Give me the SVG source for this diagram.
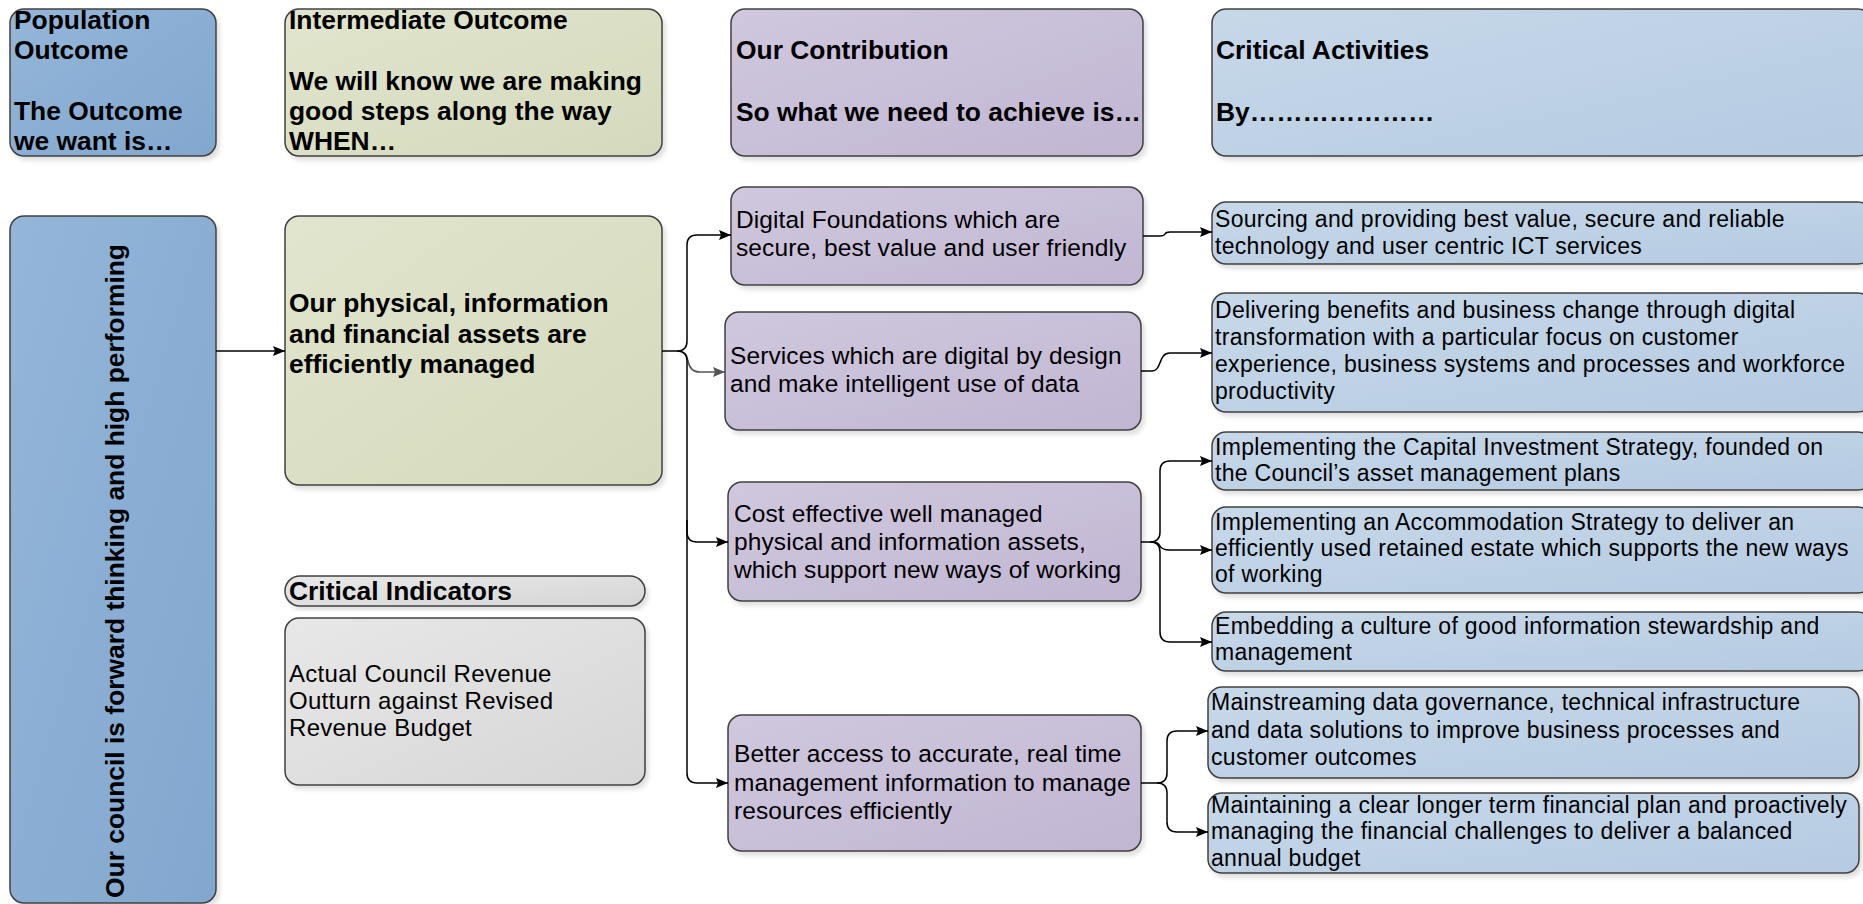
<svg xmlns="http://www.w3.org/2000/svg" width="1863" height="904" viewBox="0 0 1863 904">
<defs>
<linearGradient id="gBlue" x1="0" y1="0" x2="1" y2="1"><stop offset="0" stop-color="#93b6d9"/><stop offset="1" stop-color="#82a7ce"/></linearGradient>
<linearGradient id="gOlive" x1="0" y1="0" x2="1" y2="1"><stop offset="0" stop-color="#e1e5cd"/><stop offset="1" stop-color="#d5d9bc"/></linearGradient>
<linearGradient id="gPurple" x1="0" y1="0" x2="1" y2="1"><stop offset="0" stop-color="#d0c8de"/><stop offset="1" stop-color="#c1b6d3"/></linearGradient>
<linearGradient id="gLight" x1="0" y1="0" x2="1" y2="1"><stop offset="0" stop-color="#c7d8e9"/><stop offset="1" stop-color="#b5cbe2"/></linearGradient>
<linearGradient id="gGray" x1="0" y1="0" x2="1" y2="1"><stop offset="0" stop-color="#e8e8e8"/><stop offset="1" stop-color="#d6d6d6"/></linearGradient>
<filter id="sh" x="-5%" y="-5%" width="115%" height="120%"><feDropShadow dx="3" dy="4" stdDeviation="2" flood-color="#000" flood-opacity="0.12"/></filter>
<marker id="ar" markerUnits="userSpaceOnUse" markerWidth="13" markerHeight="10" refX="12" refY="5" orient="auto"><path d="M0,0 L12,5 L0,10 L2,5 z" fill="#000"/></marker>
<marker id="arg" markerUnits="userSpaceOnUse" markerWidth="13" markerHeight="10" refX="12" refY="5" orient="auto"><path d="M0,0 L12,5 L0,10 L2,5 z" fill="#555"/></marker>
</defs>
<style>
rect.n{stroke:#404040;stroke-width:1.5;filter:url(#sh)}
.blue{fill:url(#gBlue)}
.olive{fill:url(#gOlive)}
.purple{fill:url(#gPurple)}
.light{fill:url(#gLight)}
.gray{fill:url(#gGray)}
text{font-family:"Liberation Sans",Arial,sans-serif;fill:#000}
.b{font-weight:bold;font-size:26.4px}
.r{font-size:24.5px;letter-spacing:0.1px}
.ri{font-size:24px;letter-spacing:0.3px}
.rs{font-size:23px;letter-spacing:0.3px}
.c path{fill:none;stroke:#000;stroke-width:1.5;marker-end:url(#ar)}
.c path.g{stroke:#555;marker-end:url(#arg)}
</style>

<g id="hdr-population"><rect class="n blue" x="10" y="9" width="206" height="147" rx="14"/>
<text class="b"><tspan x="14" y="29">Population</tspan><tspan x="14" y="59">Outcome</tspan><tspan x="14" y="120">The Outcome</tspan><tspan x="14" y="150">we want is…</tspan></text></g>

<g id="hdr-intermediate"><rect class="n olive" x="285" y="9" width="377" height="147" rx="14"/>
<text class="b"><tspan x="289" y="29">Intermediate Outcome</tspan><tspan x="289" y="90">We will know we are making</tspan><tspan x="289" y="120">good steps along the way</tspan><tspan x="289" y="150">WHEN…</tspan></text></g>

<g id="hdr-contribution"><rect class="n purple" x="731" y="9" width="412" height="147" rx="14"/>
<text class="b"><tspan x="736" y="59">Our Contribution</tspan><tspan x="736" y="121">So what we need to achieve is…</tspan></text></g>

<g id="hdr-activities"><rect class="n light" x="1212" y="9" width="660" height="147" rx="14"/>
<text class="b"><tspan x="1216" y="59">Critical Activities</tspan><tspan x="1216" y="121">By…………………</tspan></text></g>

<g id="population"><rect class="n blue" x="10" y="216" width="206" height="687" rx="14"/>
<text class="b" text-anchor="middle" transform="translate(124,571) rotate(-90)">Our council is forward thinking and high performing</text></g>

<g id="intermediate"><rect class="n olive" x="285" y="216" width="377" height="269" rx="14"/>
<text class="b"><tspan x="289" y="312">Our physical, information</tspan><tspan x="289" y="343">and financial assets are</tspan><tspan x="289" y="373">efficiently managed</tspan></text></g>

<g id="indicators-title"><rect class="n gray" x="285" y="576" width="360" height="30" rx="15"/>
<text class="b" x="289" y="600">Critical Indicators</text></g>

<g id="indicators"><rect class="n gray" x="285" y="618" width="360" height="167" rx="14"/>
<text class="ri"><tspan x="289" y="682">Actual Council Revenue</tspan><tspan x="289" y="709">Outturn against Revised</tspan><tspan x="289" y="736">Revenue Budget</tspan></text></g>

<g id="digital"><rect class="n purple" x="731" y="187" width="412" height="98" rx="14"/>
<text class="r"><tspan x="736" y="228">Digital Foundations which are</tspan><tspan x="736" y="256">secure, best value and user friendly</tspan></text></g>

<g id="services"><rect class="n purple" x="725" y="312" width="416" height="118" rx="14"/>
<text class="r"><tspan x="730" y="364">Services which are digital by design</tspan><tspan x="730" y="392">and make intelligent use of data</tspan></text></g>

<g id="cost"><rect class="n purple" x="728" y="482" width="413" height="119" rx="14"/>
<text class="r"><tspan x="734" y="522">Cost effective well managed</tspan><tspan x="734" y="550">physical and information assets,</tspan><tspan x="734" y="578">which support new ways of working</tspan></text></g>

<g id="better"><rect class="n purple" x="728" y="715" width="413" height="136" rx="14"/>
<text class="r"><tspan x="734" y="762">Better access to accurate, real time</tspan><tspan x="734" y="791">management information to manage</tspan><tspan x="734" y="819">resources efficiently</tspan></text></g>

<g id="sourcing"><rect class="n light" x="1212" y="202" width="660" height="62" rx="14"/>
<text class="rs"><tspan x="1215" y="227">Sourcing and providing best value, secure and reliable</tspan><tspan x="1215" y="254">technology and user centric ICT services</tspan></text></g>

<g id="delivering"><rect class="n light" x="1212" y="293" width="660" height="119" rx="14"/>
<text class="rs"><tspan x="1215" y="318">Delivering benefits and business change through digital</tspan><tspan x="1215" y="345">transformation with a particular focus on customer</tspan><tspan x="1215" y="372">experience, business systems and processes and workforce</tspan><tspan x="1215" y="399">productivity</tspan></text></g>

<g id="capital"><rect class="n light" x="1212" y="432" width="660" height="58" rx="14"/>
<text class="rs"><tspan x="1215" y="455">Implementing the Capital Investment Strategy, founded on</tspan><tspan x="1215" y="481">the Council’s asset management plans</tspan></text></g>

<g id="accommodation"><rect class="n light" x="1212" y="507" width="660" height="86" rx="14"/>
<text class="rs"><tspan x="1215" y="530">Implementing an Accommodation Strategy to deliver an</tspan><tspan x="1215" y="556">efficiently used retained estate which supports the new ways</tspan><tspan x="1215" y="582">of working</tspan></text></g>

<g id="embedding"><rect class="n light" x="1212" y="612" width="660" height="59" rx="14"/>
<text class="rs"><tspan x="1215" y="634">Embedding a culture of good information stewardship and</tspan><tspan x="1215" y="660">management</tspan></text></g>

<g id="mainstreaming"><rect class="n light" x="1208" y="687" width="651" height="91" rx="14"/>
<text class="rs"><tspan x="1211" y="710">Mainstreaming data governance, technical infrastructure</tspan><tspan x="1211" y="738">and data solutions to improve business processes and</tspan><tspan x="1211" y="765">customer outcomes</tspan></text></g>

<g id="maintaining"><rect class="n light" x="1208" y="793" width="651" height="80" rx="14"/>
<text class="rs"><tspan x="1211" y="813">Maintaining a clear longer term financial plan and proactively</tspan><tspan x="1211" y="839">managing the financial challenges to deliver a balanced</tspan><tspan x="1211" y="866">annual budget</tspan></text></g>

<g id="connectors" class="c">
<path d="M216,351 H285"/>
<path d="M662,351 H677 Q687,351 687,341 V245 Q687,235 697,235 H731"/>
<path class="g" d="M677,351 Q687,351 688,361 Q690,372 700,372 H725"/>
<path d="M677,351 Q687,351 687,361 V773 Q687,783 697,783 H728"/>
<path d="M687,520 V532 Q687,542 697,542 H728"/>
<path d="M1143,236 H1160 Q1164,236 1165,234 Q1166,232 1170,232 H1212"/>
<path d="M1141,371 H1152 C1162,371 1158,353 1170,353 H1212"/>
<path d="M1141,542 H1150 Q1160,542 1160,532 V471 Q1160,461 1170,461 H1212"/>
<path d="M1150,542 Q1160,542 1160,552 V632 Q1160,642 1170,642 H1212"/>
<path d="M1152,542 Q1158,542 1160,546 Q1162,550 1170,550 H1212"/>
<path d="M1141,783 H1157 Q1167,783 1167,773 V741 Q1167,731 1177,731 H1208"/>
<path d="M1157,783 Q1167,783 1167,793 V822 Q1167,832 1177,832 H1208"/>
</g>
</svg>
